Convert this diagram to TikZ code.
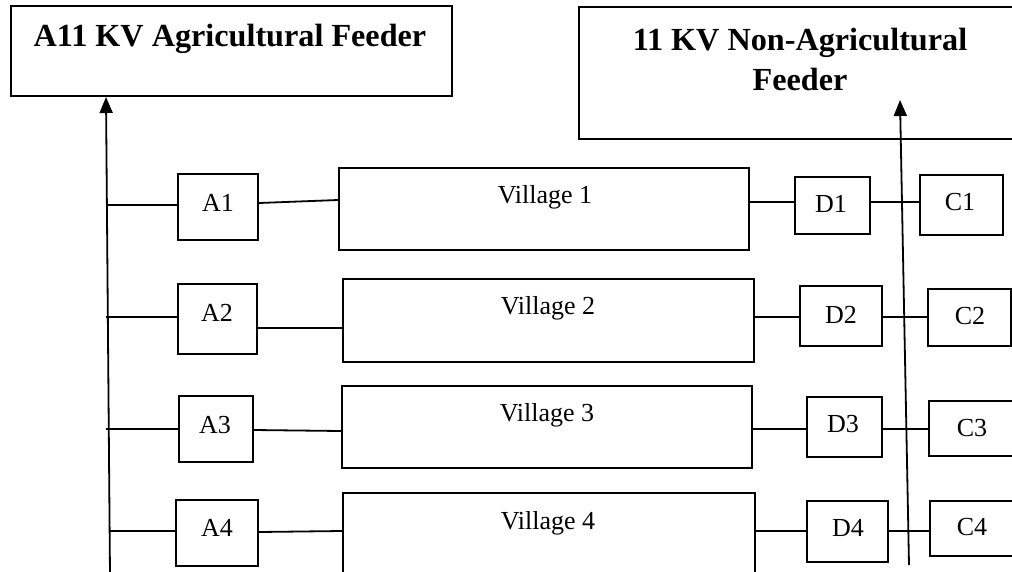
\documentclass[tikz,border=0pt]{standalone}
\usepackage{fontspec}
\setmainfont{Liberation Serif}
\usetikzlibrary{arrows.meta}
\begin{document}
\begin{tikzpicture}[x=1pt,y=-1pt,
  box/.style={draw,line width=2pt,rectangle,inner sep=0pt},
  lbl/.style={inner sep=0pt,anchor=base,font=\fontsize{26}{30}\selectfont},
  ttl/.style={inner sep=0pt,anchor=base,font=\fontsize{32.2}{41}\selectfont\bfseries},
  wire/.style={line width=1.8pt},
  feed/.style={line width=1.8pt,-{Triangle[length=16pt,width=13pt]}}]
\useasboundingbox (0,0) rectangle (1012,571);
\clip (0,0) rectangle (1012,571);
% feeder boxes
\node[box,minimum width=441pt,minimum height=90pt] (F1) at (231.5,51) {};
\node[ttl] at (230,46) {A11 KV Agricultural Feeder};
\node[box,minimum width=441pt,minimum height=132pt] (F2) at (799.5,73) {};
\node[ttl] at (800,50) {11 KV Non-Agricultural};
\node[ttl] at (800,90) {Feeder};
% row 1
\node[box,minimum width=80pt,minimum height=66pt] (A1) at (218,207) {};
\node[lbl] at (218,211.5) {A1};
\node[box,minimum width=410pt,minimum height=82pt] (V1) at (544,209) {};
\node[lbl] at (545,203) {Village 1};
\node[box,minimum width=75pt,minimum height=57pt] (D1) at (832.5,205.5) {};
\node[lbl] at (831,212) {D1};
\node[box,minimum width=83pt,minimum height=60pt] (C1) at (961.5,205) {};
\node[lbl] at (960,210) {C1};
% row 2
\node[box,minimum width=79pt,minimum height=70pt] (A2) at (217.5,319) {};
\node[lbl] at (217,321) {A2};
\node[box,minimum width=411pt,minimum height=83pt] (V2) at (548.5,320.5) {};
\node[lbl] at (548,314) {Village 2};
\node[box,minimum width=82pt,minimum height=60pt] (D2) at (841,316) {};
\node[lbl] at (841,323) {D2};
\node[box,minimum width=83pt,minimum height=57pt] (C2) at (969.5,317.5) {};
\node[lbl] at (970,324) {C2};
% row 3
\node[box,minimum width=74pt,minimum height=66pt] (A3) at (216,429) {};
\node[lbl] at (215,433.5) {A3};
\node[box,minimum width=410pt,minimum height=82pt] (V3) at (547,427) {};
\node[lbl] at (547,421.5) {Village 3};
\node[box,minimum width=75pt,minimum height=60pt] (D3) at (844.5,427) {};
\node[lbl] at (843,432.5) {D3};
\node[box,minimum width=91pt,minimum height=55pt] (C3) at (974.5,428.5) {};
\node[lbl] at (972,436.5) {C3};
% row 4
\node[box,minimum width=82pt,minimum height=66pt] (A4) at (217,533) {};
\node[lbl] at (217,536.5) {A4};
\node[box,minimum width=412pt,minimum height=107pt] (V4) at (549,546.5) {};
\node[lbl] at (548,529) {Village 4};
\node[box,minimum width=81pt,minimum height=61pt] (D4) at (847.5,531.5) {};
\node[lbl] at (848,536.5) {D4};
\node[box,minimum width=90pt,minimum height=55pt] (C4) at (975,528.5) {};
\node[lbl] at (972,535.5) {C4};
% feeder lines
\coordinate (FLb) at (110,575);
\coordinate (FLt) at (106,97);
\coordinate (FRb) at (909,565);
\coordinate (FRt) at (900,100);
\draw[feed] (FLb) -- (FLt);
\draw[feed] (FRb) -- (FRt);
\coordinate (T1) at (108,205);
\coordinate (T2) at (106,317);
\coordinate (T3) at (106,429);
\coordinate (T4) at (110,531);
% connectors
\draw[wire] (T1) -- (A1.west |- 0,205);
\draw[wire] (A1.east |- 0,203) -- (V1.west |- 0,200);
\draw[wire] (V1.east |- 0,202) -- (D1.west |- 0,202);
\draw[wire] (D1.east |- 0,202) -- (C1.west |- 0,202);
\draw[wire] (T2) -- (A2.west |- 0,317);
\draw[wire] (A2.east |- 0,328) -- (V2.west |- 0,328);
\draw[wire] (V2.east |- 0,317) -- (D2.west |- 0,317);
\draw[wire] (D2.east |- 0,317) -- (C2.west |- 0,317);
\draw[wire] (T3) -- (A3.west |- 0,429);
\draw[wire] (A3.east |- 0,430) -- (V3.west |- 0,431);
\draw[wire] (V3.east |- 0,429) -- (D3.west |- 0,429);
\draw[wire] (D3.east |- 0,429) -- (C3.west |- 0,429);
\draw[wire] (T4) -- (A4.west |- 0,531);
\draw[wire] (A4.east |- 0,532) -- (V4.west |- 0,531);
\draw[wire] (V4.east |- 0,531) -- (D4.west |- 0,531);
\draw[wire] (D4.east |- 0,531) -- (C4.west |- 0,531);
\end{tikzpicture}
\end{document}
